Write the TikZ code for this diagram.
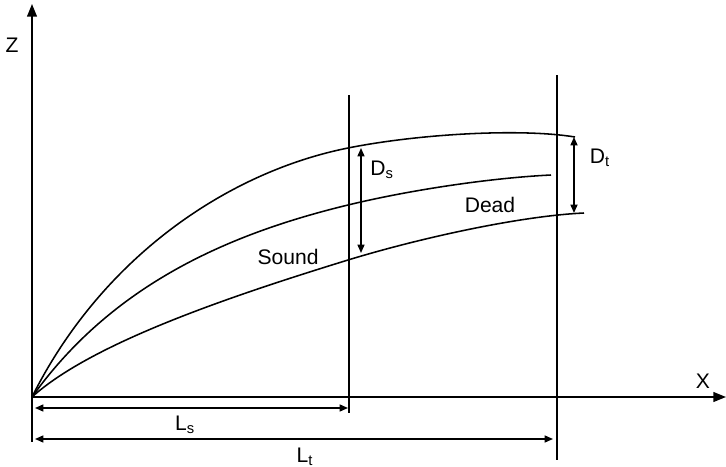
\documentclass[tikz,border=0pt]{standalone}
\usepackage{fontspec}
\setmainfont{Liberation Sans}
\usetikzlibrary{arrows.meta,positioning,calc}

\begin{document}
\begin{tikzpicture}[
    x=0.025cm, y=-0.025cm,
    axis/.style={line width=1.1pt, -{Triangle[length=9pt, width=7pt]}},
    curve/.style={line width=1.1pt},
    dimline/.style={line width=1.1pt, {Triangle[length=6pt, width=5pt]}-{Triangle[length=6pt, width=5pt]}},
    lbl/.style={font=\fontsize{15}{18}\selectfont, inner sep=0pt}
]
    \useasboundingbox (0,0) rectangle (726,467);

    % Coordinates
    \coordinate (O) at (32,397);
    \coordinate (ztop) at (32,4);
    \coordinate (zbot) at (32,442);
    \coordinate (xend) at (726,397);
    \coordinate (vs top) at (349,95);
    \coordinate (vs bot) at (349,413);
    \coordinate (vt top) at (557,75);
    \coordinate (vt bot) at (557,460);

    % Axes
    \draw[line width=1.1pt] (O) -- (zbot);
    \draw[axis] (O) -- (ztop);
    \draw[axis] (O) -- (xend);
    \node[lbl] (zlab) at (12,45) {Z};
    \node[lbl] (xlab) at (703,381) {X};

    % Verticals
    \draw[line width=1.1pt] (vs top) -- (vs bot);
    \draw[line width=1.1pt] (vt top) -- (vt bot);

    % Curves
    \draw[curve] (O) .. controls (102,257) and (228,172) .. (348,148)
                     .. controls (418,134) and (520,128) .. (575,137);
    \draw[curve] (O) .. controls (112,285) and (228,234) .. (348,205)
                     .. controls (410,190) and (490,178) .. (551,175);
    \draw[curve] (O) .. controls (92,343) and (228,297) .. (348,260)
                     .. controls (420,238) and (520,216) .. (584,213);
    \node[lbl] (sound) at (288,257) {Sound};
    \node[lbl] (dead) at (490,205) {Dead};

    % Depths
    \coordinate (ds top) at (361,148);
    \coordinate (ds bot) at (361,253);
    \coordinate (dt top) at (574,137);
    \coordinate (dt bot) at (574,213);
    \draw[dimline] (ds top) -- (ds bot);
    \draw[dimline] (dt top) -- (dt bot);
    \node[lbl] (dslab) at (382,170) {D\textsubscript{s}};
    \node[lbl] (dtlab) at (600,158) {D\textsubscript{t}};

    % Lengths
    \coordinate (ls left) at (35,408);
    \coordinate (ls right) at (348,408);
    \coordinate (lt left) at (35,439);
    \coordinate (lt right) at (553,439);
    \draw[dimline] (ls left) -- (ls right);
    \draw[dimline] (lt left) -- (lt right);
    \node[lbl] (lslab) at (185,425) {L\textsubscript{s}};
    \node[lbl] (ltlab) at (305,457) {L\textsubscript{t}};
\end{tikzpicture}
\end{document}
